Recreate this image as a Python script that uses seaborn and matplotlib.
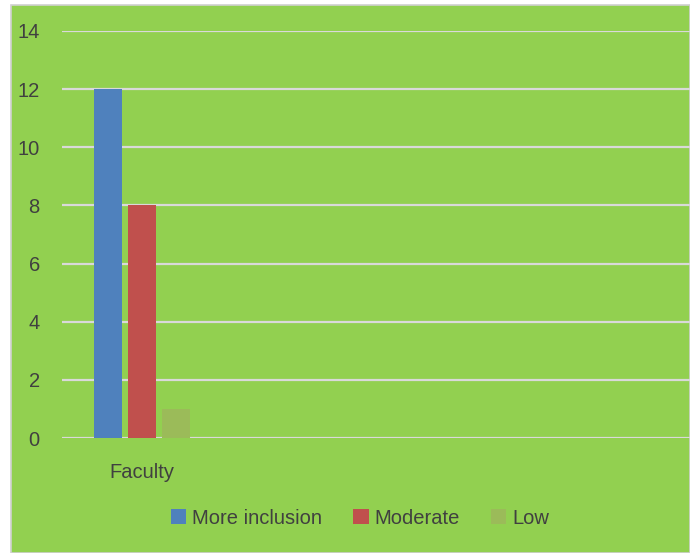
import pandas as pd
import matplotlib
matplotlib.use("Agg")
import matplotlib.pyplot as plt
from matplotlib.patches import Rectangle
import seaborn as sns

categories = ["Faculty"]
levels = ["More inclusion", "Moderate", "Low"]
more_inclusion = [12]
moderate = [8]
low = [1]
colors = ["#4F81BD", "#C0504D", "#9BBB59"]

df = pd.DataFrame({
    "group": categories * 3,
    "level": [levels[0]] * len(categories) + [levels[1]] * len(categories) + [levels[2]] * len(categories),
    "count": more_inclusion + moderate + low,
})

sns.set_theme(style="white")
plt.rcParams['font.family'] = ['Liberation Sans', 'DejaVu Sans']
green = "#92D050"
txt = "#404040"

fig = plt.figure(figsize=(6.9, 5.53), dpi=100, facecolor="white")
# green chart area with thin border, kept behind the axes
bg = Rectangle((11 / 690, 0), 1 - 11 / 690, 548 / 553, transform=fig.transFigure,
               facecolor=green, edgecolor="#D0D0D0", linewidth=1.2, zorder=-10)
fig.add_artist(bg)

ax = fig.add_axes([62 / 690, (553 - 438) / 553, 1 - 62 / 690, (438 - 31) / 553])
ax.set_facecolor("none")

sns.barplot(data=df, x="group", y="count", hue="level", hue_order=levels,
            palette=colors, width=0.64, gap=0.18, saturation=1, ax=ax,
            legend=False, zorder=3, linewidth=0, edgecolor="none")

ax.set_ylim(0, 14)
ax.set_yticks(range(0, 15, 2))
ax.set_xlim(-0.5, 3.425)
ax.grid(axis="y", color="#D9D9D9", linewidth=1.6, zorder=0)
ax.set_axisbelow(True)
for s in ax.spines.values():
    s.set_visible(False)
ax.tick_params(axis="both", length=0, labelsize=14.5, colors=txt)
ax.tick_params(axis="y", pad=16)
ax.tick_params(axis="x", pad=18)
ax.set_xlabel("")
ax.set_ylabel("")

handles = [Rectangle((0, 0), 1, 1, facecolor=c, edgecolor="none") for c in colors]
leg = fig.legend(handles, levels, loc="center", bbox_to_anchor=(0.522, 0.063), ncol=3,
                 frameon=False, fontsize=14.5, handlelength=0.75, handleheight=0.75,
                 handletextpad=0.3, columnspacing=1.55)
for t in leg.get_texts():
    t.set_color(txt)

fig.savefig("out.png", dpi=100, facecolor=fig.get_facecolor())
